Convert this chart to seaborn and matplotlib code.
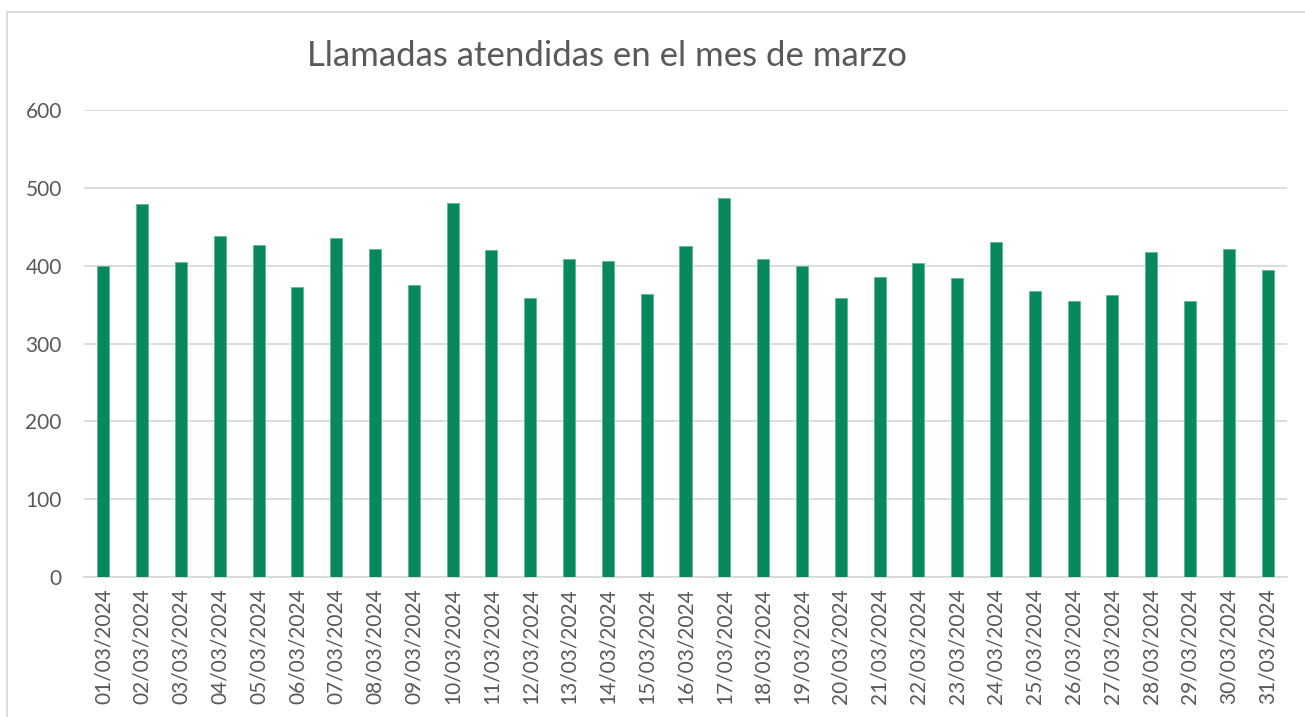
import pandas as pd
import seaborn as sns
import matplotlib.pyplot as plt
from matplotlib.patches import Rectangle

# Llamadas atendidas por día (marzo 2024)
fechas = [f"{d:02d}/03/2024" for d in range(1, 32)]
llamadas = [399, 479, 405, 438, 426, 372, 435, 421, 375, 480,
            420, 359, 409, 406, 364, 425, 487, 408, 400, 359,
            386, 403, 384, 431, 368, 354, 362, 417, 354, 422, 394]
yticks = [0, 100, 200, 300, 400, 500, 600]

df = pd.DataFrame({'Fecha': fechas, 'Llamadas': llamadas})

sns.set_theme(style='white')
plt.rcParams['font.family'] = ['Lato', 'DejaVu Sans']
gris = '#595959'

fig = plt.figure(figsize=(13.05, 7.17), dpi=100)
ax = fig.add_axes([84 / 1305, 1 - 577 / 717, (1287 - 84) / 1305, (577 - 110) / 717])

sns.barplot(data=df, x='Fecha', y='Llamadas', color='#07895C', width=0.31,
            edgecolor='#5FB896', linewidth=0.6, saturation=1, ax=ax, zorder=3)

ax.set_ylim(0, 600)
ax.set_yticks(yticks)
ax.yaxis.grid(True, color='#D9D9D9', linewidth=1.3, zorder=0)
ax.set_xlabel('')
ax.set_ylabel('')
for lado in ['top', 'right', 'left']:
    ax.spines[lado].set_visible(False)
ax.spines['bottom'].set_color('#D9D9D9')
ax.spines['bottom'].set_linewidth(1.3)
ax.tick_params(axis='y', colors=gris, labelsize=15, length=0, pad=16)
ax.tick_params(axis='x', colors=gris, labelsize=15, length=0, pad=8, rotation=90)

fig.text(0.4655, 0.922, 'Llamadas atendidas en el mes de marzo', ha='center', va='center',
         fontsize=25, color=gris)

# Borde del área del gráfico
fig.patches.append(Rectangle((7 / 1305, -0.1), 1.2, 1 - 11.5 / 717 + 0.1, transform=fig.transFigure,
                             fill=False, edgecolor='#D9D9D9', linewidth=1.3))

plt.savefig('out.png', dpi=100)
